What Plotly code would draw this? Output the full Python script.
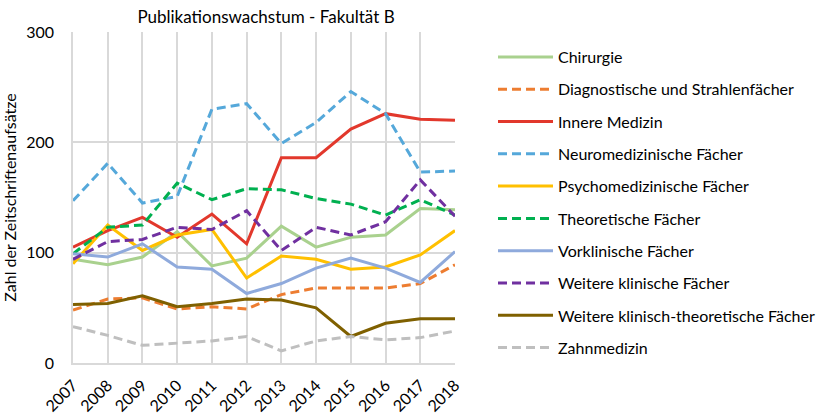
import plotly.graph_objects as go

years = [2007, 2008, 2009, 2010, 2011, 2012, 2013, 2014, 2015, 2016, 2017, 2018]

chirurgie = [94, 89, 96, 119, 88, 95, 124, 105, 114, 116, 140, 139]
diagnostische = [48, 58, 59, 49, 51, 49, 62, 68, 68, 68, 72, 89]
innere = [105, 120, 132, 114, 135, 108, 186, 186, 212, 226, 221, 220]
neuro = [147, 181, 145, 151, 230, 235, 199, 218, 246, 226, 173, 174]
psycho = [90, 125, 102, 116, 121, 77, 97, 94, 85, 87, 98, 120]
theoretische = [99, 123, 125, 163, 148, 158, 157, 149, 144, 134, 148, 134]
vorklinische = [99, 96, 108, 87, 85, 63, 72, 86, 95, 86, 73, 101]
weitere_klin = [94, 110, 112, 123, 121, 138, 102, 123, 116, 128, 166, 133]
weitere_kt = [53, 54, 61, 51, 54, 58, 57, 50, 24, 36, 40, 40]
zahn = [33, 25, 16, 18, 20, 24, 11, 20, 24, 21, 23, 29]

series = [
    ("Chirurgie", chirurgie, "#A9D18E", "solid"),
    ("Diagnostische und Strahlenfächer", diagnostische, "#ED7D31", "9px,5px"),
    ("Innere Medizin", innere, "#E2382C", "solid"),
    ("Neuromedizinische Fächer", neuro, "#55A8DA", "9px,5px"),
    ("Psychomedizinische Fächer", psycho, "#FFC000", "solid"),
    ("Theoretische Fächer", theoretische, "#00B050", "9px,5px"),
    ("Vorklinische Fächer", vorklinische, "#8FAADC", "solid"),
    ("Weitere klinische Fächer", weitere_klin, "#7030A0", "9px,5px"),
    ("Weitere klinisch-theoretische Fächer", weitere_kt, "#7F6000", "solid"),
    ("Zahnmedizin", zahn, "#BFBFBF", "9px,5px"),
]

fig = go.Figure()
for i, (name, vals, color, dash) in enumerate(series):
    fig.add_trace(go.Scatter(
        x=years, y=vals, name=name, mode="lines",
        line=dict(color=color, width=3, dash=dash),
        legendgroup=f"g{i}",
    ))

font_family = "Lato, Carlito, Calibri, sans-serif"

fig.update_layout(
    width=824, height=414,
    margin=dict(l=73, r=369, t=32, b=51),
    paper_bgcolor="white", plot_bgcolor="white",
    font=dict(family=font_family, size=16, color="#000000"),
    title=dict(text="Publikationswachstum - Fakultät B", x=266/824, xanchor="center",
               y=1 - 17/414, yanchor="middle", font=dict(size=17, color="#000000")),
    showlegend=True,
    legend=dict(xref="container", yref="container", x=493/824, xanchor="left",
                y=1 - 40/414, yanchor="top",
                font=dict(size=16), itemwidth=55, tracegroupgap=8.5,
                maxheight=410, bgcolor="rgba(0,0,0,0)"),
    xaxis=dict(range=[2007, 2018], tickvals=years, ticktext=[str(y) for y in years],
               tickangle=-45, showgrid=True, gridcolor="#D9D9D9", gridwidth=1.5,
               showline=True, linecolor="#D9D9D9", linewidth=1.5,
               ticks="outside", ticklen=5, tickcolor="rgba(0,0,0,0)",
               zeroline=False, tickfont=dict(size=16), automargin=False),
    yaxis=dict(range=[0, 300], tickvals=[0, 100, 200, 300], showgrid=True,
               gridcolor="#D9D9D9", gridwidth=1.5, showline=True, linecolor="#D9D9D9",
               linewidth=1.5, zeroline=False, ticks="outside", ticklen=14,
               tickcolor="rgba(0,0,0,0)", tickfont=dict(size=16), automargin=False,
               title=dict(text="Zahl der Zeitschriftenaufsätze", font=dict(size=16), standoff=6)),
)

fig.write_html("out.html", config={"displayModeBar": False},
               post_script="document.body.style.margin='0px';document.body.style.overflow='hidden';")
